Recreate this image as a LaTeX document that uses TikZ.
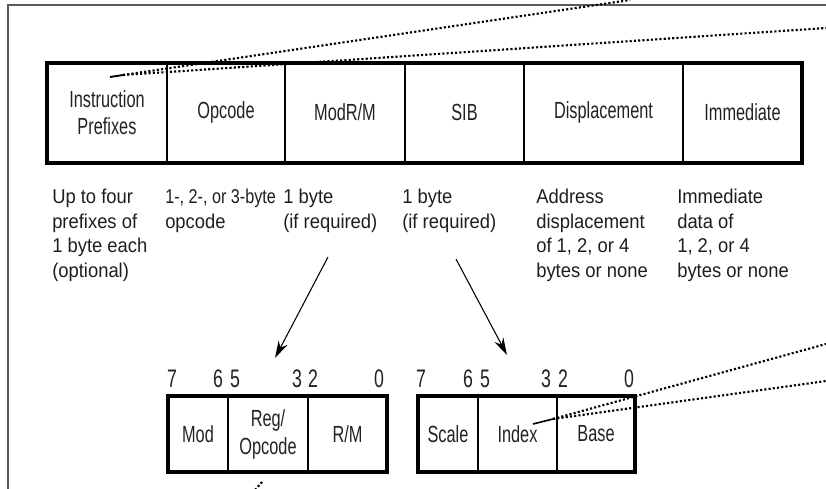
\documentclass[tikz,border=0pt]{standalone}
\usepackage{graphicx}
\usepackage{fontspec}
\setmainfont{Liberation Sans}[FakeStretch=0.92]
\newfontfamily\narrowfont{Liberation Sans}[FakeStretch=0.7]
\usetikzlibrary{positioning, arrows.meta}

\definecolor{inkgrey}{HTML}{222222}
\definecolor{notegrey}{HTML}{1E1E1E}
\definecolor{framegrey}{HTML}{5A5A5A}

\tikzset{
	field/.style = {draw, line width = 0.75pt, inner sep = 0pt, align = center, text = inkgrey, font = \narrowfont\fontsize{17.5}{20}\selectfont},
	topfield/.style = {field, minimum height = 74.25pt},
	subfield/.style = {field, minimum height = 56.25pt, font = \narrowfont\fontsize{17.5}{21}\selectfont},
	note/.style = {anchor = north west, inner sep = 0pt, align = left, text = notegrey, font = \fontsize{15}{18.4}\selectfont},
	bitno/.style = {anchor = base, inner sep = 0pt, text = inkgrey, font = \narrowfont\fontsize{19}{19}\selectfont},
	outline/.style = {line width = 3pt},
	callout/.style = {line width = 1.6pt, dash pattern = on 1.6pt off 1.6pt},
	pointer/.style = {line width = 0.8pt, -{Stealth[length = 13pt, width = 7.5pt]}},
}

\begin{document}
\begin{tikzpicture}[x = 0.75pt, y = -0.75pt]
	\clip (0, 0) rectangle (826, 489);
	% frame of the page
	\draw[framegrey, line width = 1.2pt] (826, 5) -- (8, 5) -- (8, 489);

	% instruction format
	\node[topfield, minimum width = 89.25pt, anchor = north west] (pfx) at (47, 62.5) {Instruction\\Prefixes};
	\node[topfield, minimum width = 87.75pt, right = 0pt of pfx] (opc) {Opcode};
	\node[topfield, minimum width = 89.25pt, right = 0pt of opc] (modrm) {ModR/M};
	\node[topfield, minimum width = 88.5pt, right = 0pt of modrm] (sib) {SIB};
	\node[topfield, minimum width = 118.5pt, right = 0pt of sib] (disp) {Displacement};
	\node[topfield, minimum width = 88.5pt, right = 0pt of disp] (imm) {Immediate};
	\draw[outline] (pfx.north west) rectangle (imm.south east);

	\node[note] (pfxnote) at (52, 189) {Up to four\\prefixes of\\1 byte each\\(optional)};
	\node[note] (opcnote) at (165, 189) {\scalebox{0.88}[1]{1-, 2-, or 3-byte}\\opcode};
	\node[note] (modrmnote) at (283, 189) {1 byte\\(if required)};
	\node[note] (sibnote) at (402, 189) {1 byte\\(if required)};
	\node[note] (dispnote) at (536, 189) {Address\\displacement\\of 1, 2, or 4\\bytes or none};
	\node[note] (immnote) at (677, 189) {Immediate\\data of\\1, 2, or 4\\bytes or none};

	% ModR/M byte
	\node[subfield, minimum width = 44.25pt, anchor = north west] (mod) at (168, 396) {Mod};
	\node[subfield, minimum width = 59.25pt, right = 0pt of mod] (reg) {Reg/\\Opcode};
	\node[subfield, minimum width = 58.5pt, right = 0pt of reg] (rm) {R/M};
	\draw[outline] (mod.north west) rectangle (rm.south east);
	\foreach \x/\b in {172/7, 218/6, 235/5, 297/3, 313/2, 379/0}
		\node[bitno] (mrbit\b) at (\x, 387) {\b};

	% SIB byte
	\node[subfield, minimum width = 44.25pt, anchor = north west] (scale) at (418, 396) {Scale};
	\node[subfield, minimum width = 58.5pt, right = 0pt of scale] (index) {Index};
	\node[subfield, minimum width = 57.75pt, right = 0pt of index] (base) {Base};
	\draw[outline] (scale.north west) rectangle (base.south east);
	\foreach \x/\b in {421/7, 468/6, 485/5, 546/3, 563/2, 629/0}
		\node[bitno] (sibbit\b) at (\x, 387) {\b};

	% pointers down to the bytes
	\coordinate (modrmfrom) at (328, 257);
	\coordinate (modrmto) at (275, 358);
	\coordinate (sibfrom) at (456, 259);
	\coordinate (sibto) at (507, 355);
	\draw[pointer] (modrmfrom) -- (modrmto);
	\draw[pointer] (sibfrom) -- (sibto);

	% dotted callouts
	\coordinate (pfxtip) at (110, 77);
	\coordinate (pfxknee) at (123, 75);
	\coordinate (pfxup) at (630, 0);
	\coordinate (pfxright) at (826, 28);
	\draw[line width = 1.4pt] (pfxtip) -- (pfxknee);
	\draw[callout] (pfxknee) -- (pfxup);
	\draw[callout] (pfxknee) -- (pfxright);

	\coordinate (idxtip) at (533, 424);
	\coordinate (idxknee) at (553, 419);
	\coordinate (idxup) at (826, 344);
	\coordinate (idxright) at (826, 381);
	\draw[line width = 1.2pt] (idxtip) -- (idxknee);
	\draw[callout] (idxknee) -- (idxup);
	\draw[callout] (idxknee) -- (idxright);

	\coordinate (regfoot) at (255, 490);
	\coordinate (regfootend) at (262, 482);
	\draw[callout] (regfoot) -- (regfootend);
\end{tikzpicture}
\end{document}
